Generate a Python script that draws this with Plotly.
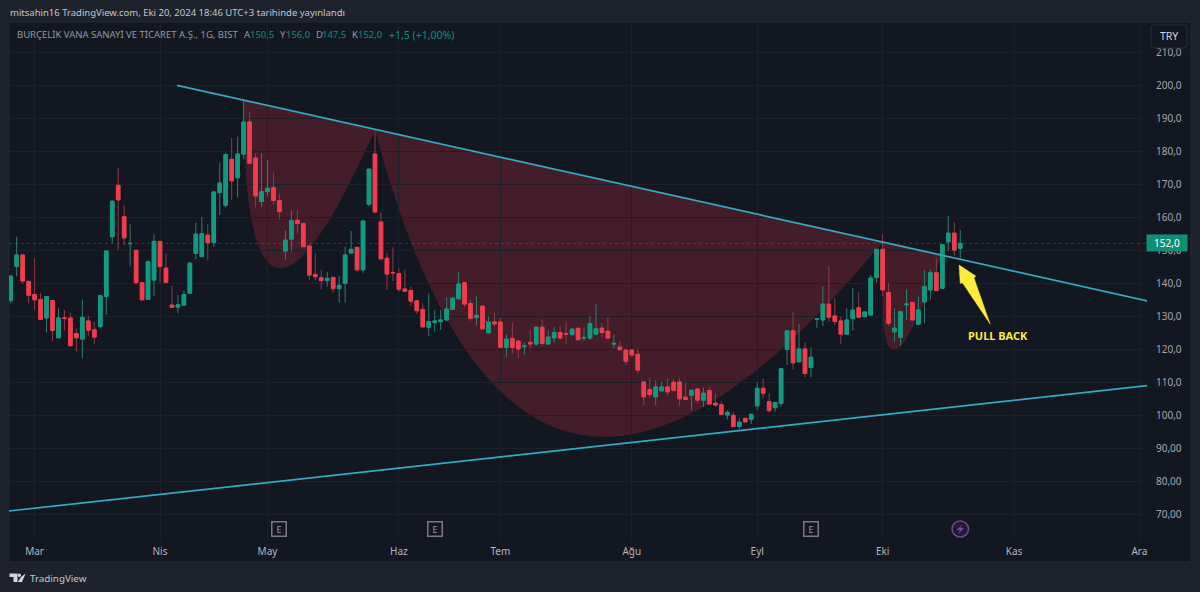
import plotly.graph_objects as go

# ---------- data (bar index / TRY) ----------
open_ = [134.7,145,148.5,140.5,136.5,135,129.4,134.7,123.4,129.4,129.4,124.7,123,128.5,125.8,126.8,135.9,154,169.6,160.1,151.9,149.9,140.1,135,140.9,152.6,144.5,133.3,132.7,133.3,136.9,149,148,154.5,152.3,167.4,163.6,177.5,171.9,
 179.1,188.8,177.9,164.7,167.7,168.9,165,149.7,153.3,159,158,151.2,142.6,141.6,140.7,141.7,138.3,139.9,149.1,150.8,144,163.9,179.1,158.5,147.5,143.2,142.8,138.2,137.7,134.6,132,126.6,128,128.3,128.8,132,135.2,140.1,
 133.8,129.5,133,124.9,128.2,128.2,120.5,123.2,122.4,120.7,122,121.5,126.6,121.5,123.4,125,124.6,124.4,126.3,123.3,123.3,124.5,126.3,125.4,121.5,120.6,119.7,119.7,118.4,110,107.7,105.5,107.3,108.5,109.9,110,105.4,106,107.9,
 104.5,107.4,103.6,103.1,100,99.9,96.5,99,98.7,102.8,108.1,104,102.2,103.5,119.9,125.5,116.1,120,114.4,129,128.8,133.6,130,128.5,124.5,129.2,132.5,129.8,130.3,141.7,150.2,137.1,125.2,123.5,133.4,134.1,127.5,134.3,137.9,143.1,138.4,152.5,155.1,150.5]
high = [142.1,154,148.5,140.5,147.5,137,135.9,134.7,132.3,131.8,131,126.2,135,130,128.2,136.1,149.7,164.8,175,163.5,157.8,149.9,140.1,147,154.8,152.6,149,139.2,136.4,137.7,146.4,158.3,160,157.8,167.6,176.5,179.5,184,184.4,
 195.5,192,179.3,179.3,177.3,173.5,167.2,156,161.9,162.1,158,151.2,149,144,143.4,141.7,142.1,151,155.8,150.8,158.8,174.5,186.4,161.4,149.2,150.8,144.5,144.2,138.9,134.6,133.9,136.9,131.8,131.8,135.7,135.7,143.4,140.1,
 135,136,133,129.8,131.1,129.5,124.5,127.9,122.4,121.9,125.9,126.6,129,125.7,126.7,127.2,128,126.5,126.3,126.5,130,133.5,127.9,129.5,124.4,122.5,119.7,119.7,120.2,110,111.4,110.4,110,111.1,110.8,111.1,109.9,107.5,107.9,
 108.4,108.4,106.6,104,101.5,101,99,99,100.2,109.9,111.1,106.6,103.8,114,125.5,131.1,127.6,122,120.5,129.2,139,145.1,135.3,129.8,132.3,138.4,137.2,131.2,142.4,150.2,154.8,140.1,132.3,131.3,138.1,134.1,135.9,143.9,144.1,147.5,151.6,160.3,158.4,156]
low = [133.9,142,139.7,133.9,131.8,129,125,122.5,123.4,125.6,121,119.2,117.2,124,121.5,126.3,130.3,152,150,151.5,145,139.4,134.9,135,136.1,140.1,139.9,132.6,130.8,133.3,136.9,147.2,148,146.8,151,160.6,162.9,165.2,166,
 177.5,176.3,162.9,162.9,166.2,163.7,159.3,147,149.6,155,151,140.9,140.9,138.1,138.9,137.1,134,134,149,143.4,143.1,163.3,161.5,147.3,137.9,140.6,137.4,137.5,133,130.6,126.7,124,125.3,125.8,128.6,131.8,135.1,132.6,
 128.5,127.2,125.9,124.9,126.7,120.5,117.6,118.6,117.1,118.1,120.2,120.9,120.9,121.5,121.9,122.9,121.5,123.9,122.7,122.5,122.7,124.5,123.5,123.3,120.2,119.8,115.1,117.4,112.6,103,105.2,103,107.3,106,107,102.7,104.5,101.5,103.5,
 102.5,103.3,102.5,100.2,98.7,96.5,95.7,97.9,97.2,101.5,105,100.7,101,102.5,115.2,113.8,116.1,111.4,111.4,126.3,127,128.3,127.3,121.5,124.5,125.6,129.6,129.8,130.3,140.1,135.9,127,122.2,120.9,128.8,128.8,127.5,127.8,135,137.7,138.4,149.8,148.2,147.5]
close = [142.1,148.5,140.6,136.3,134.9,129,135.9,125.6,129.4,129.3,121,123.4,129.6,125.7,123.6,136.1,149.7,164.8,165.2,153.7,152,140.1,134.9,146.4,152.6,145,140.2,132.6,133.4,136.5,146,154.8,155,152.2,167.6,170.3,178.9,171,179.1,
 188.8,176.3,166.4,167.7,168.7,165,161.6,153,158.9,158,151,142.4,141.9,140.7,141.4,138.3,139.3,148.5,150.2,144,158.8,174.5,161.5,147.3,142.7,143.1,138.1,137.5,134.5,131.6,126.7,128.3,128.5,128.8,132.1,135.4,139.7,133.6,
 129.3,130.2,126.1,128.2,127.6,120.5,123,120.4,120,120.9,121.5,126.6,121.7,123.6,125,123.3,124.5,126,122.8,123.5,127.7,126.1,125,123.3,121.7,119.8,116.3,118.2,113.6,105.5,106.2,108.5,108.5,107,107.5,104.9,104.7,107.5,104.5,
 106.6,103.3,103,100.2,100.8,96.5,97.8,97.9,100.2,108.1,106.6,101.3,103.8,114,125.5,115.8,120,112.6,117.5,129.2,133.6,129.6,128.3,124.5,128.8,131.8,129.6,131.2,141.5,150.2,137.9,127.8,126.3,131.3,133.6,128.8,131.8,138.9,143.1,137.7,151.6,155.1,150,152]
bars = list(range(len(close)))

month_bars = [4, 25, 43, 65, 82, 104, 125, 146, 168, 189]
month_labels = ["Mar", "Nis", "May", "Haz", "Tem", "Ağu", "Eyl", "Eki", "Kas", "Ara"]
price_ticks = [70,80,90,100,110,120,130,140,150,160,170,180,190,200,210]
price_labels = ["70,00","80,00","90,00","100,0","110,0","120,0","130,0","140,0","150,0","160,0","170,0","180,0","190,0","200,0","210,0"]

upper_x, upper_y = [27.85, 190.3], [199.9, 134.6]
lower_x, lower_y = [-0.3, 190.3], [70.9, 108.9]
arc_a = [(38.9, 195.45), (39.2, 98.2), (61.0, 186.4)]
arc_b = [(61.0, 186.4), (85.5, 19.1), (146.1, 152.7)]
arc_c = [(146.1, 152.7), (144.4, 88.8), (156.0, 148.8)]
arrow_pts = [(158.8,145.45),(161.6,142.1),(161.3,141.5),(164.0,127.6),(159.4,140.0),(159.0,139.9)]
earnings_bars = [45, 71, 134]
split_bar = 159

# ---------- layout constants ----------
L, R, T, B = 9, 1147, 22, 540
BG = "#1e222d"; PANE = "#131722"; GRID = "#1c202b"
UP = "#129a80"; DN = "#f23c4d"; UPW = "#2f7d6e"; DNW = "#8f3a48"
LINE = "#35a9c2"; YEL = "#ffeb3b"
FONT = "Noto Sans"
px = lambda v: (v - L) / (R - L)
py = lambda v: (B - v) / (B - T)

fig = go.Figure()
# wicks
fig.add_trace(go.Candlestick(x=bars, open=open_, high=high, low=low, close=close,
    increasing=dict(line=dict(color=UPW, width=1), fillcolor=UP),
    decreasing=dict(line=dict(color=DNW, width=1), fillcolor=DN), showlegend=False, hoverinfo="skip"))
# bodies
fig.add_trace(go.Candlestick(x=bars, open=open_, close=close,
    high=[max(a, b) for a, b in zip(open_, close)], low=[min(a, b) for a, b in zip(open_, close)],
    increasing=dict(line=dict(color=UP, width=1), fillcolor=UP),
    decreasing=dict(line=dict(color=DN, width=1), fillcolor=DN), showlegend=False, hoverinfo="skip"))
for xs, ys in ((upper_x, upper_y), (lower_x, lower_y)):
    fig.add_trace(go.Scatter(x=xs, y=ys, mode="lines", line=dict(color=LINE, width=1.7),
                             showlegend=False, hoverinfo="skip"))

shapes = []
# pane
shapes.append(dict(type="rect", xref="paper", yref="paper", layer="below",
                   x0=px(9), x1=px(1191), y0=py(22), y1=py(562),
                   fillcolor=PANE, line=dict(color="#252934", width=1)))
# arcs
for a, c, b in (arc_a, arc_b, arc_c):
    shapes.append(dict(type="path", xref="x", yref="y", layer="below",
                       path=f"M {a[0]} {a[1]} Q {c[0]} {c[1]} {b[0]} {b[1]} Z",
                       fillcolor="rgba(242,54,69,0.22)", line=dict(width=0)))
# last price line
shapes.append(dict(type="line", xref="paper", yref="y", x0=0, x1=1, y0=close[-1], y1=close[-1],
                   line=dict(color="rgba(18,154,128,0.4)", width=1, dash="dot")))
# arrow
shapes.append(dict(type="path", xref="x", yref="y", layer="above",
                   path="M " + " L ".join(f"{x} {y}" for x, y in arrow_pts) + " Z",
                   fillcolor=YEL, line=dict(color=YEL, width=0.5)))
# TRY button
x0, x1, y0, y1 = px(1151), px(1187), py(48), py(25)
rx, ry = 3 / (R - L), 3 / (B - T)
shapes.append(dict(type="path", xref="paper", yref="paper", layer="above",
    path=(f"M {x0+rx} {y1} L {x1-rx} {y1} Q {x1} {y1} {x1} {y1-ry} L {x1} {y0+ry} Q {x1} {y0} {x1-rx} {y0} "
          f"L {x0+rx} {y0} Q {x0} {y0} {x0} {y0+ry} L {x0} {y1-ry} Q {x0} {y1} {x0+rx} {y1} Z"),
    fillcolor=PANE, line=dict(color="#2a2e39", width=1)))
# split circle + bolt
shapes.append(dict(type="circle", xref="paper", yref="paper", layer="above",
                   x0=px(952), x1=px(968.5), y0=py(537), y1=py(521),
                   fillcolor="rgba(123,63,160,0.12)", line=dict(color="#74409a", width=1.6)))
bolt = [(962.5,524.5),(956.5,530),(960,530),(958,534),(964,528),(960.5,528)]
shapes.append(dict(type="path", xref="paper", yref="paper", layer="above",
                   path="M " + " L ".join(f"{px(a)} {py(b)}" for a, b in bolt) + " Z",
                   fillcolor="#7e479f", line=dict(width=0)))
# TradingView logo
logo = ["M 9.5 573.5 L 17.5 573.5 L 17.5 582 L 13.5 582 L 13.5 577 L 9.5 577 Z",
        "M 21 577 L 25.6 573.5 L 22 582 L 17.8 582 Z"]
for p in logo:
    toks = p.split()
    out = []; i = 0
    while i < len(toks):
        if toks[i] in "MLZ":
            out.append(toks[i]); i += 1
        else:
            out.append(f"{px(float(toks[i]))} {py(float(toks[i+1]))}"); i += 2
    shapes.append(dict(type="path", xref="paper", yref="paper", layer="above", path=" ".join(out),
                       fillcolor="#d1d4dc", line=dict(width=0)))
shapes.append(dict(type="circle", xref="paper", yref="paper", layer="above",
                   x0=px(17.6), x1=px(21), y0=py(577), y1=py(573.6), fillcolor="#d1d4dc", line=dict(width=0)))

ann = []
def text(x, y, s, size, color, anchor="left", **kw):
    ann.append(dict(xref="paper", yref="paper", x=px(x), y=py(y), text=s, showarrow=False, xanchor=anchor,
                    yanchor="middle", font=dict(family=FONT, size=size, color=color), **kw))

text(8, 13, "mitsahin16 TradingView.com, Eki 20, 2024 18:46 UTC+3 tarihinde yayınlandı", 9.5, "#c5c7ce")
g = "#0f8f78"; t = "#9598a1"
text(14.5, 35, "BURÇELİK VANA SANAYİ VE TİCARET A.Ş., 1G, BIST", 9.5, t)
for lx, lbl, vx, val in ((242, "A", 248, "150,5"), (278, "Y", 284, "156,0"), (314, "D", 320, "147,5"), (350, "K", 356, "152,0")):
    text(lx, 35, lbl, 9.5, t)
    text(vx, 35, val, 9.5, g)
text(387, 35, "+1,5 (+1,00%)", 10.5, g)
text(1169, 36, "TRY", 10.5, "#d1d4dc", "center")
text(1167, 243, "152,0", 10, "#ffffff", "center", bgcolor="#0f8f78", width=38, height=14)
text(998, 335, "<b>PULL BACK</b>", 11, YEL, "center")
text(27.5, 578, "TradingView", 9.8, "#c5c7ce")
for b in earnings_bars:
    ann.append(dict(xref="x", yref="paper", x=b, y=py(529), text="E", showarrow=False, width=13, height=13,
                    borderwidth=1.5, bordercolor="#787b86", borderpad=0, xanchor="center", yanchor="middle",
                    font=dict(family=FONT, size=9, color="#9598a1")))

fig.update_layout(
    width=1200, height=592, autosize=False,
    margin=dict(l=L, r=1200 - R, t=T, b=592 - B, pad=0),
    paper_bgcolor=BG, plot_bgcolor="rgba(0,0,0,0)",
    boxgap=0.2, boxgroupgap=0.25, boxmode="overlay",
    shapes=shapes, annotations=ann, showlegend=False,
    xaxis=dict(range=[(L - 10.7) / 5.972, (R - 10.7) / 5.972], tickmode="array", tickvals=month_bars,
               ticktext=month_labels, showgrid=True, gridcolor=GRID, gridwidth=1, zeroline=False,
               showline=False, ticks="", rangeslider=dict(visible=False), ticklabelstandoff=4,
               tickfont=dict(family=FONT, size=10, color="#b2b5be"), fixedrange=True),
    yaxis=dict(side="right", range=[200 - (B - 85) / 3.3, 200 + (85 - T) / 3.3], tickmode="array",
               tickvals=price_ticks, ticktext=price_labels, showgrid=True, gridcolor=GRID, gridwidth=1,
               zeroline=False, showline=False, ticks="", ticklabelstandoff=8,
               tickfont=dict(family=FONT, size=10, color="#a3a6af"), fixedrange=True),
)
fig.write_html("out.html", config=dict(displayModeBar=False),
               post_script="document.body.style.margin='0';document.documentElement.style.overflow='hidden';")
